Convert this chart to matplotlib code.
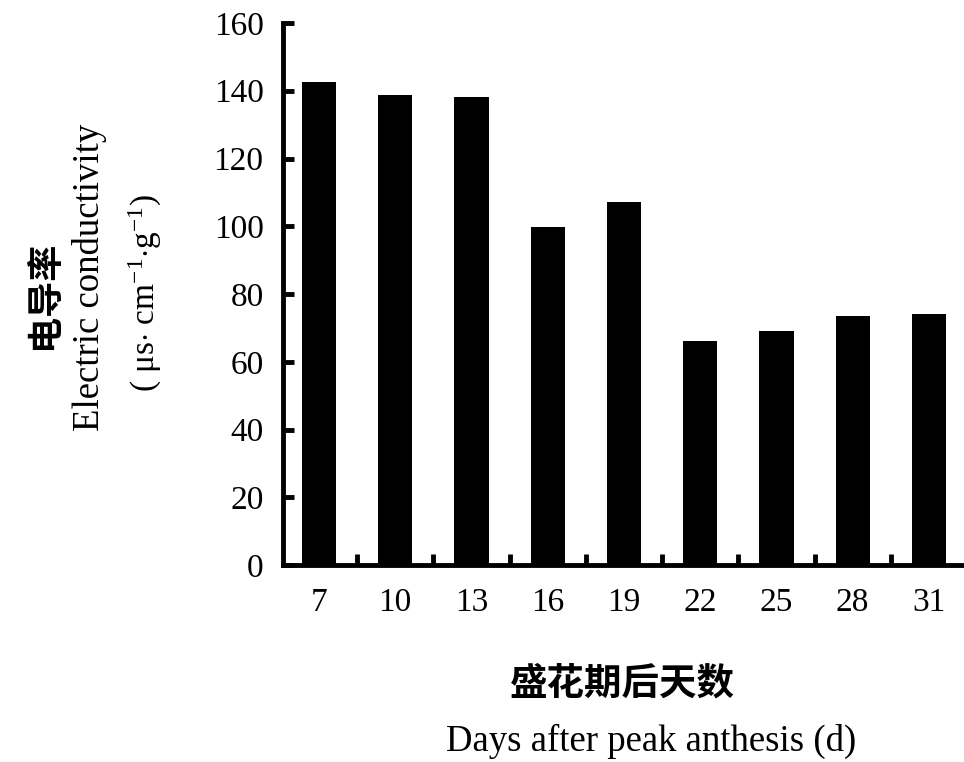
import numpy as np
import matplotlib
matplotlib.use('Agg')
import matplotlib.pyplot as plt
from matplotlib.ticker import FixedLocator

days = [7, 10, 13, 16, 19, 22, 25, 28, 31]
conductivity = [142.6, 138.6, 138.1, 99.7, 107.2, 66.2, 69.0, 73.5, 74.2]
y_ticks = [0, 20, 40, 60, 80, 100, 120, 140, 160]

plt.rcParams['font.family'] = ['Liberation Serif', 'DejaVu Serif']
plt.rcParams['mathtext.fontset'] = 'custom'
plt.rcParams['mathtext.rm'] = 'Liberation Serif'
plt.rcParams['mathtext.it'] = 'Liberation Serif:italic'

W, H = 964, 762
fig = plt.figure(figsize=(W / 100, H / 100), dpi=100)
ax = fig.add_axes([283 / W, 1 - 565 / H, 1 - 283 / W, (565 - 23) / H])

x = np.arange(len(days))
ax.bar(x, conductivity, width=0.45, color='black', zorder=2)

ax.set_xlim(-0.472, 8.46)
ax.set_ylim(0, 160)
ax.set_yticks(y_ticks)
ax.set_xticks(x)
ax.set_xticklabels([str(d) for d in days])
ax.xaxis.set_minor_locator(FixedLocator(x[:-1] + 0.5))

ax.spines['top'].set_visible(False)
ax.spines['right'].set_visible(False)
for side in ('left', 'bottom'):
    ax.spines[side].set_linewidth(3.5)
    ax.spines[side].set_zorder(3)

ax.tick_params(axis='y', direction='in', length=8, width=3.5, pad=14, labelsize=24)
ax.tick_params(axis='x', which='major', length=0, pad=16, labelsize=24)
ax.tick_params(axis='x', which='minor', direction='in', length=8, width=3.5)

# stacked y-axis label: Chinese, English, unit
fig.text(44 / W, 1 - 295 / H, '电导率', rotation=90, ha='center', va='center',
         fontsize=26, fontweight='bold', family=['Noto Sans CJK SC'])
fig.text(90 / W, 1 - 277 / H, 'Electric conductivity', rotation=90,
         ha='center', va='center', fontsize=26.5)
fig.text(145 / W, 1 - 293 / H, r'( μs$\cdot$ cm$^{-1}$$\cdot$g$^{-1}$)', rotation=90,
         ha='center', va='center', fontsize=24)

# x-axis label in two lines
fig.text(622 / W, 1 - 683 / H, '盛花期后天数', ha='center', va='center',
         fontsize=27, fontweight='bold', family=['Noto Sans CJK SC'])
fig.text(651 / W, 1 - 741 / H, 'Days after peak anthesis (d)', ha='center',
         va='center', fontsize=26.5)

fig.savefig('out.png', dpi=100)
